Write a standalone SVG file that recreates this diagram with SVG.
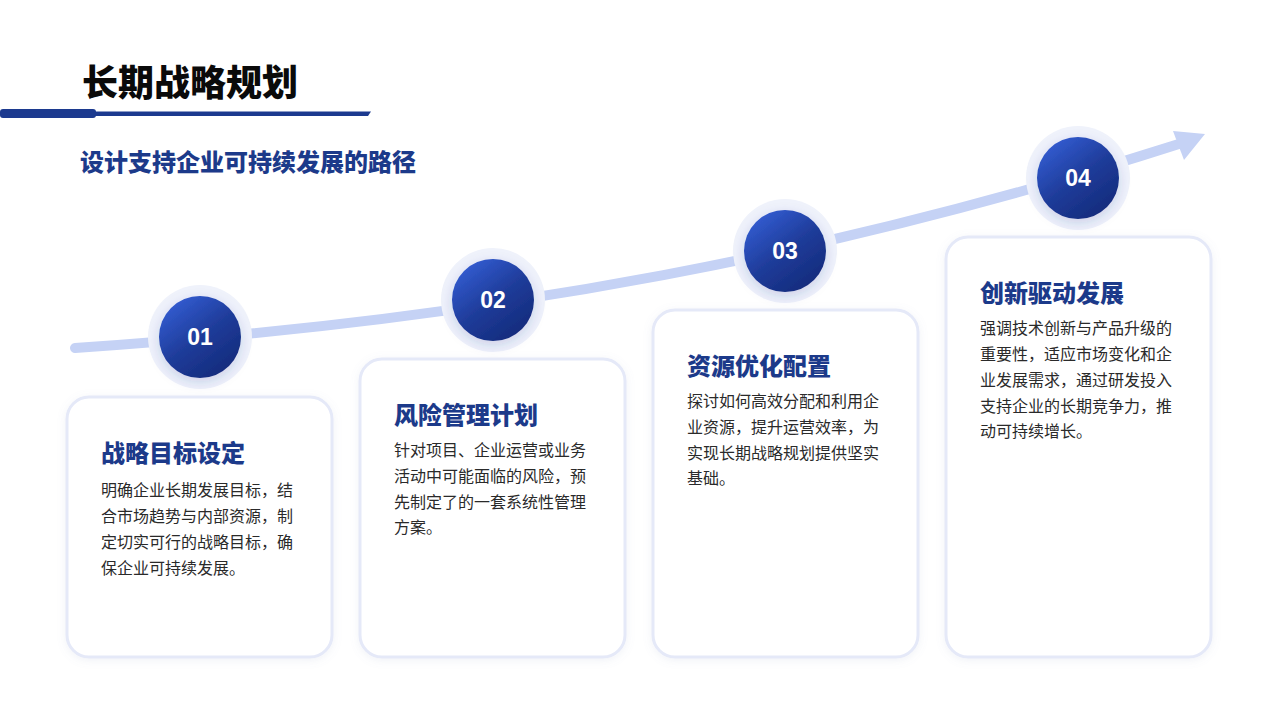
<svg xmlns="http://www.w3.org/2000/svg" width="1280" height="720" viewBox="0 0 1280 720">
<defs>
<linearGradient id="cg" x1="0.2" y1="0.1" x2="0.8" y2="0.9">
<stop offset="0" stop-color="#3159cc"/>
<stop offset="0.5" stop-color="#1f3c9a"/>
<stop offset="1" stop-color="#142c7e"/>
</linearGradient>
<filter id="sh" x="-50%" y="-50%" width="200%" height="200%">
<feDropShadow dx="0" dy="4" stdDeviation="6" flood-color="#1d3a8f" flood-opacity="0.18"/>
</filter>
<filter id="csh" x="-10%" y="-10%" width="120%" height="120%">
<feDropShadow dx="0" dy="2" stdDeviation="4" flood-color="#8090c0" flood-opacity="0.12"/>
</filter>
<style>
.card{fill:#ffffff;stroke:#e5e9f8;stroke-width:3;}
.title{font-family:"Noto Sans CJK SC","Noto Sans",sans-serif;font-weight:900;font-size:24px;fill:#1c3a8a;}
.body{font-family:"Noto Sans CJK SC","Noto Sans",sans-serif;font-size:16px;fill:#2a2a2a;}
.num{font-family:"Liberation Sans",Arial,sans-serif;font-weight:bold;font-size:23px;fill:#ffffff;text-anchor:middle;}
.halo{fill:#eff2fb;}
.dot{fill:url(#cg);}
</style>
</defs>
<rect width="1280" height="720" fill="#ffffff"/>
<g id="header">
<text x="82" y="96" font-family="'Noto Sans CJK SC','Noto Sans',sans-serif" font-weight="900" font-size="36" fill="#0a0a0a">长期战略规划</text>
<path d="M95,111.5 L371,111.5 L368,116 L95,116 Z" fill="#1c3a8f"/>
<rect x="0" y="109" width="96" height="9" rx="3" fill="#1c3a8f"/>
<text x="80" y="171" font-family="'Noto Sans CJK SC','Noto Sans',sans-serif" font-weight="900" font-size="24" fill="#1c3a8a">设计支持企业可持续发展的路径</text>
</g>
<g id="connectors">
<path d="M75,348 C500,320 850,250 1182,143" fill="none" stroke="#c5d2f5" stroke-width="10" stroke-linecap="round"/>
<polygon points="1205,134 1173,131 1184,160" fill="#c5d2f5"/>
</g>
<g id="card1">
<rect class="card" x="67" y="397" width="265" height="260" rx="22" filter="url(#csh)"/>
<text class="title" x="101" y="462">战略目标设定</text>
<text class="body" x="101" y="496">明确企业长期发展目标，结</text>
<text class="body" x="101" y="522">合市场趋势与内部资源，制</text>
<text class="body" x="101" y="548">定切实可行的战略目标，确</text>
<text class="body" x="101" y="574">保企业可持续发展。</text>
</g>
<g id="card2">
<rect class="card" x="360" y="359" width="265" height="298" rx="22" filter="url(#csh)"/>
<text class="title" x="394" y="424">风险管理计划</text>
<text class="body" x="394" y="456">针对项目、企业运营或业务</text>
<text class="body" x="394" y="482">活动中可能面临的风险，预</text>
<text class="body" x="394" y="508">先制定了的一套系统性管理</text>
<text class="body" x="394" y="533">方案。</text>
</g>
<g id="card3">
<rect class="card" x="653" y="310" width="265" height="347" rx="22" filter="url(#csh)"/>
<text class="title" x="687" y="375">资源优化配置</text>
<text class="body" x="687" y="407">探讨如何高效分配和利用企</text>
<text class="body" x="687" y="433">业资源，提升运营效率，为</text>
<text class="body" x="687" y="459">实现长期战略规划提供坚实</text>
<text class="body" x="687" y="484">基础。</text>
</g>
<g id="card4">
<rect class="card" x="946" y="237" width="265" height="420" rx="22" filter="url(#csh)"/>
<text class="title" x="980" y="302">创新驱动发展</text>
<text class="body" x="980" y="334">强调技术创新与产品升级的</text>
<text class="body" x="980" y="360">重要性，适应市场变化和企</text>
<text class="body" x="980" y="386">业发展需求，通过研发投入</text>
<text class="body" x="980" y="412">支持企业的长期竞争力，推</text>
<text class="body" x="980" y="437">动可持续增长。</text>
</g>
<g id="node1">
<circle class="halo" cx="200" cy="337" r="52"/>
<circle class="dot" cx="200" cy="337" r="41" filter="url(#sh)"/>
<text class="num" x="200" y="345">01</text>
</g>
<g id="node2">
<circle class="halo" cx="493" cy="300" r="52"/>
<circle class="dot" cx="493" cy="300" r="41" filter="url(#sh)"/>
<text class="num" x="493" y="308">02</text>
</g>
<g id="node3">
<circle class="halo" cx="785" cy="251" r="52"/>
<circle class="dot" cx="785" cy="251" r="41" filter="url(#sh)"/>
<text class="num" x="785" y="259">03</text>
</g>
<g id="node4">
<circle class="halo" cx="1078" cy="178" r="52"/>
<circle class="dot" cx="1078" cy="178" r="41" filter="url(#sh)"/>
<text class="num" x="1078" y="186">04</text>
</g>
</svg>
